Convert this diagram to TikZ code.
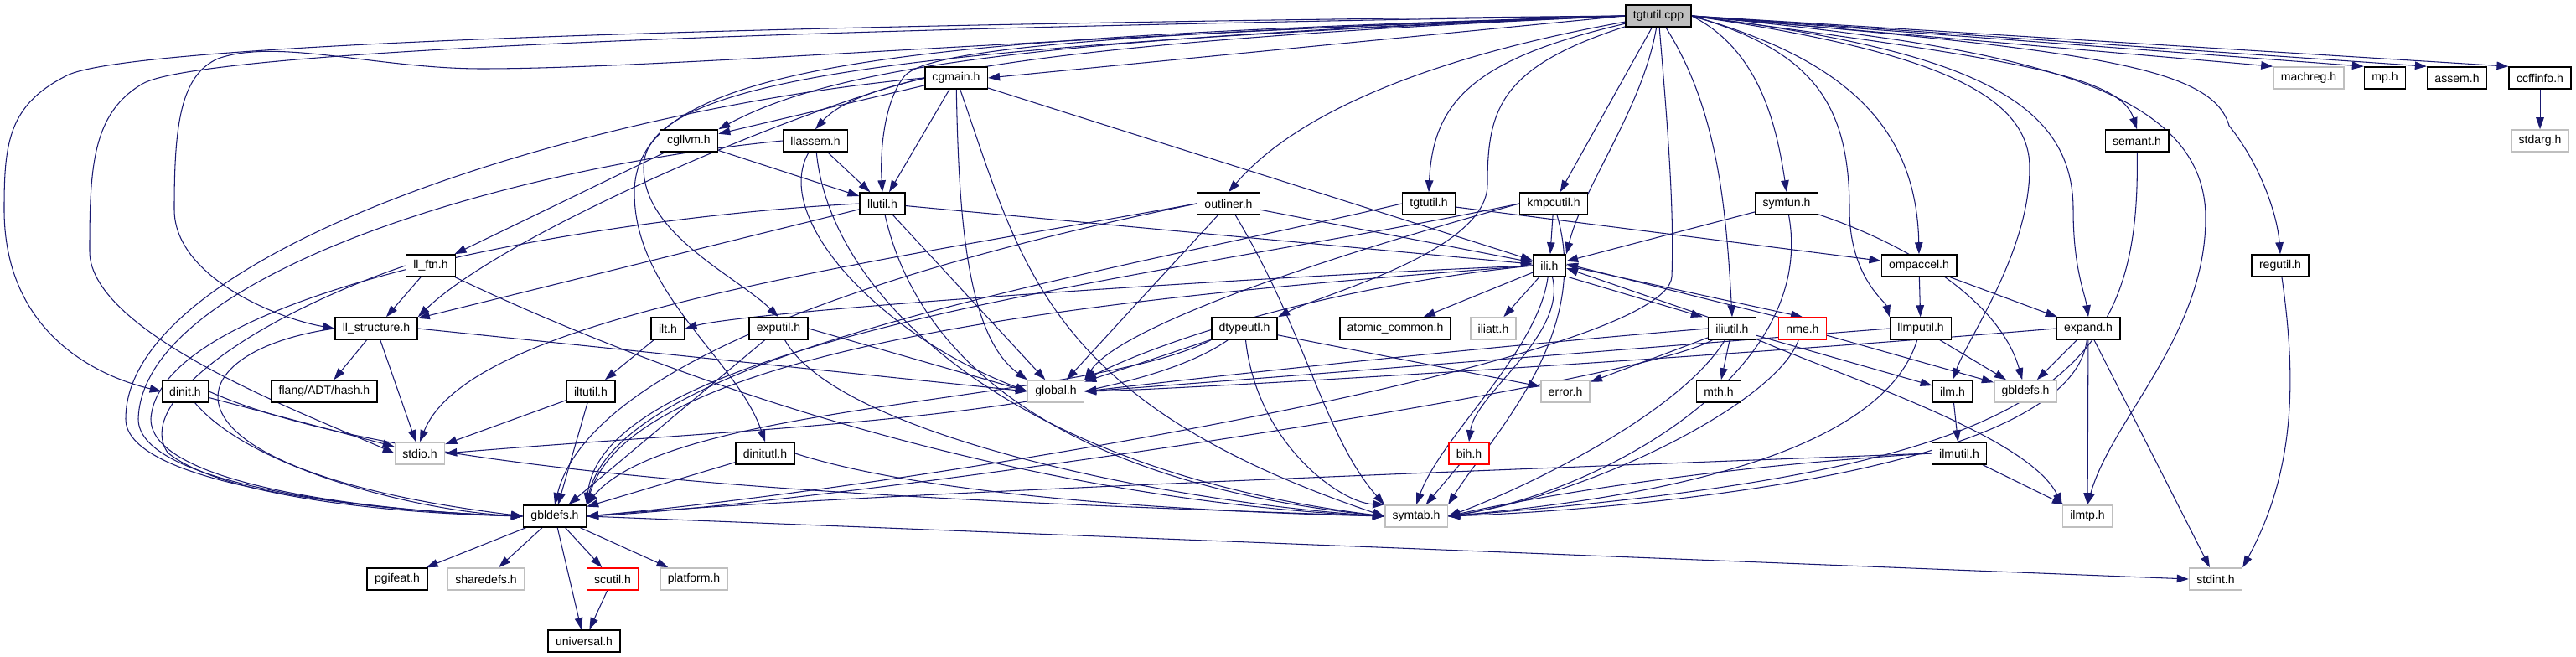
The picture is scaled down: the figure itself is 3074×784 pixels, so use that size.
\documentclass[tikz,border=0pt]{standalone}
\usepackage{fontspec}
\setmainfont{Liberation Sans}
\usetikzlibrary{arrows.meta,positioning,backgrounds}
\definecolor{EdgeBlue}{RGB}{25,25,112}
\definecolor{NoDocGray}{RGB}{191,191,191}
\definecolor{RootGray}{RGB}{191,191,191}
\definecolor{TruncRed}{RGB}{255,0,0}
\tikzset{
  hdr/.style={draw=black,fill=white,line width=0.9pt,minimum height=0.52cm,inner xsep=5pt,inner ysep=0pt,font=\fontsize{8}{9}\selectfont},
  nodoc/.style={hdr,draw=NoDocGray},
  trunc/.style={hdr,draw=TruncRed},
  root/.style={hdr,fill=RootGray},
  dep/.style={-{Triangle[length=2.8mm,width=1.9mm]},draw=EdgeBlue,line width=0.6pt}
}

\begin{document}
\begin{tikzpicture}[x=0.02cm,y=-0.02cm]
\useasboundingbox (0,0) rectangle (3074,784);

\node[root] (tgtutilcpp) at (1979,19) {tgtutil.cpp};

\node[hdr] (cgmain) at (1141,93) {cgmain.h};
\node[nodoc] (machreg) at (2755,93) {machreg.h};
\node[hdr] (mp) at (2846,93) {mp.h};
\node[hdr] (assem) at (2932,93) {assem.h};
\node[hdr] (ccffinfo) at (3031,93) {ccffinfo.h};

\node[hdr] (cgllvm) at (822,168) {cgllvm.h};
\node[hdr] (llassem) at (973,168) {llassem.h};
\node[hdr] (semant) at (2550,168) {semant.h};
\node[nodoc] (stdarg) at (3031,168) {stdarg.h};

\node[hdr] (llutil) at (1053,243) {llutil.h};
\node[hdr] (outliner) at (1466,243) {outliner.h};
\node[hdr] (tgtutilh) at (1705,243) {tgtutil.h};
\node[hdr] (kmpcutil) at (1854,243) {kmpcutil.h};
\node[hdr] (symfun) at (2132,243) {symfun.h};

\node[hdr] (llftn) at (514,317) {ll\_ftn.h};
\node[hdr] (ili) at (1849,317) {ili.h};
\node[hdr] (ompaccel) at (2290,317) {ompaccel.h};
\node[hdr] (regutil) at (2721,317) {regutil.h};

\node[hdr] (llstruct) at (449,392) {ll\_structure.h};
\node[hdr] (ilt) at (797,392) {ilt.h};
\node[hdr] (exputil) at (929,392) {exputil.h};
\node[hdr] (dtypeutl) at (1485,392) {dtypeutl.h};
\node[hdr] (atomic) at (1665,392) {atomic\_common.h};
\node[nodoc] (iliatt) at (1782,392) {iliatt.h};
\node[hdr] (iliutil) at (2067,392) {iliutil.h};
\node[trunc] (nme) at (2151,392) {nme.h};
\node[hdr] (llmputil) at (2292,392) {llmputil.h};
\node[hdr] (expand) at (2492,392) {expand.h};

\node[hdr] (dinit) at (221,467) {dinit.h};
\node[hdr] (hash) at (387,467) {flang/ADT/hash.h};
\node[hdr] (iltutil) at (705,467) {iltutil.h};
\node[nodoc] (global) at (1260,467) {global.h};
\node[nodoc] (error) at (1868,467) {error.h};
\node[hdr] (mth) at (2051,467) {mth.h};
\node[hdr] (ilm) at (2330,467) {ilm.h};
\node[nodoc] (gbldefsb) at (2417,467) {gbldefs.h};

\node[nodoc] (stdio) at (501,541) {stdio.h};
\node[hdr] (dinitutl) at (913,541) {dinitutl.h};
\node[trunc] (bih) at (1753,541) {bih.h};
\node[hdr] (ilmutil) at (2338,541) {ilmutil.h};

\node[hdr] (gbldefs) at (662,616) {gbldefs.h};
\node[nodoc] (symtab) at (1690,616) {symtab.h};
\node[nodoc] (ilmtp) at (2491,616) {ilmtp.h};

\node[hdr] (pgifeat) at (474,691) {pgifeat.h};
\node[nodoc] (sharedefs) at (580,691) {sharedefs.h};
\node[trunc] (scutil) at (731,691) {scutil.h};
\node[nodoc] (platform) at (828,691) {platform.h};
\node[nodoc] (stdint) at (2644,691) {stdint.h};

\node[hdr] (universal) at (697,765) {universal.h};

\begin{scope}[on background layer]
% edges out of tgtutil.cpp
\draw[dep] (tgtutilcpp.west) .. controls (800,30) and (150,55) .. (80,90) .. controls (10,125) and (5,170) .. (5,250) .. controls (5,400) and (120,450) .. (dinit.west);
\draw[dep] (tgtutilcpp.west) .. controls (800,36) and (230,65) .. (170,100) .. controls (110,135) and (107,200) .. (107,300) .. controls (107,400) and (380,500) .. (stdio.west);
\draw[dep] (tgtutilcpp.west) .. controls (1300,40) and (800,82) .. (575,82) .. controls (450,82) and (330,45) .. (260,70) .. controls (215,90) and (208,150) .. (208,250) .. controls (208,330) and (330,380) .. (llstruct.west);
\draw[dep] (tgtutilcpp.west) -- (cgmain.east);
\draw[dep] (tgtutilcpp.west) .. controls (1250,45) and (1000,78) .. (cgllvm.north east);
\draw[dep] (tgtutilcpp.west) .. controls (1250,50) and (1030,90) .. (llassem.north);
\draw[dep] (tgtutilcpp.west) .. controls (1300,40) and (1110,60) .. (1080,90) .. controls (1055,120) and (1050,180) .. (llutil.north);
\draw[dep] (tgtutilcpp.west) .. controls (1100,45) and (757,70) .. (757,230) .. controls (757,350) and (880,430) .. (dinitutl.north);
\draw[dep] (tgtutilcpp.west) .. controls (1100,55) and (768,90) .. (768,200) .. controls (768,280) and (880,330) .. (exputil.north);
\draw[dep] (tgtutilcpp) .. controls (1750,60) and (1560,120) .. (outliner.north);
\draw[dep] (tgtutilcpp) .. controls (1760,70) and (1710,120) .. (tgtutilh.north);
\draw[dep] (tgtutilcpp) .. controls (1790,80) and (1775,130) .. (1775,220) .. controls (1775,300) and (1580,350) .. (dtypeutl.north east);
\draw[dep] (tgtutilcpp) -- (kmpcutil);
\draw[dep] (tgtutilcpp) .. controls (1960,130) and (1890,220) .. (ili.north east);
\draw[dep] (tgtutilcpp) .. controls (1990,150) and (1998,250) .. (1995,330) .. controls (1990,430) and (1100,580) .. (gbldefs.east);
\draw[dep] (tgtutilcpp) .. controls (2050,130) and (2060,250) .. (iliutil.north);
\draw[dep] (tgtutilcpp.east) .. controls (2100,60) and (2120,150) .. (symfun.north);
\draw[dep] (tgtutilcpp.east) .. controls (2160,60) and (2207,120) .. (2207,250) .. controls (2207,330) and (2250,360) .. (llmputil.north west);
\draw[dep] (tgtutilcpp.east) .. controls (2200,70) and (2287,150) .. (ompaccel.north);
\draw[dep] (tgtutilcpp.east) .. controls (2300,60) and (2422,110) .. (2422,200) .. controls (2422,300) and (2350,400) .. (ilm.north);
\draw[dep] (tgtutilcpp.east) .. controls (2350,60) and (2474,120) .. (2474,250) .. controls (2474,320) and (2488,350) .. (expand.north);
\draw[dep] (tgtutilcpp.east) .. controls (2400,70) and (2530,90) .. (semant.north);
\draw[dep] (tgtutilcpp.east) .. controls (2400,55) and (2632,100) .. (2632,260) .. controls (2632,400) and (2520,500) .. (ilmtp.north);
\draw[dep] (tgtutilcpp.east) .. controls (2500,60) and (2640,80) .. (2660,150) .. controls (2700,200) and (2718,260) .. (regutil.north);
\draw[dep] (tgtutilcpp.east) -- (machreg.north west);
\draw[dep] (tgtutilcpp.east) -- (mp.north west);
\draw[dep] (tgtutilcpp.east) -- (assem.north west);
\draw[dep] (tgtutilcpp.east) -- (ccffinfo.north west);

% cgmain.h, cgllvm.h, llassem.h
\draw[dep] (cgmain) -- (cgllvm);
\draw[dep] (cgmain.west) .. controls (950,130) and (600,280) .. (llstruct.north east);
\draw[dep] (cgmain.west) .. controls (700,130) and (150,300) .. (150,500) .. controls (150,580) and (450,610) .. (gbldefs.west);
\draw[dep] (cgmain) -- (llutil);
\draw[dep] (cgmain) .. controls (1144,250) and (1152,400) .. (global.north west);
\draw[dep] (cgmain) .. controls (1220,320) and (1250,480) .. (symtab.west);
\draw[dep] (cgmain) -- (ili);
\draw[dep] (cgllvm) -- (llftn);
\draw[dep] (cgllvm) -- (llutil);
\draw[dep] (llassem) -- (llutil);
\draw[dep] (llassem.west) .. controls (600,200) and (170,330) .. (165,500) .. controls (165,580) and (450,610) .. (gbldefs.west);
\draw[dep] (llassem) .. controls (920,260) and (1050,400) .. (global.west);
\draw[dep] (llassem) .. controls (990,350) and (1200,560) .. (symtab.west);

% second rank
\draw[dep] (llutil) -- (ili);
\draw[dep] (llutil) -- (llstruct);
\draw[dep] (llutil.west) .. controls (700,260) and (190,350) .. (180,500) .. controls (180,580) and (450,610) .. (gbldefs.west);
\draw[dep] (llutil) -- (global);
\draw[dep] (llutil) .. controls (1100,450) and (1300,580) .. (symtab.west);
\draw[dep] (llftn) -- (llstruct);
\draw[dep] (llftn.west) .. controls (300,380) and (160,480) .. (200,540) .. controls (260,590) and (450,612) .. (gbldefs.west);
\draw[dep] (llftn) .. controls (900,500) and (1300,600) .. (symtab.west);
\draw[dep] (outliner) -- (ili);
\draw[dep] (outliner) -- (global);
\draw[dep] (outliner.west) .. controls (1000,330) and (700,450) .. (gbldefs.north);
\draw[dep] (outliner.west) .. controls (1000,320) and (560,380) .. (stdio.north);
\draw[dep] (outliner) .. controls (1560,400) and (1580,520) .. (symtab.north west);
\draw[dep] (tgtutilh) -- (ompaccel);
\draw[dep] (tgtutilh.west) .. controls (1300,330) and (740,420) .. (gbldefs.north east);
\draw[dep] (kmpcutil) -- (ili);
\draw[dep] (kmpcutil.west) .. controls (1500,330) and (1330,400) .. (global.north east);
\draw[dep] (kmpcutil.west) .. controls (1400,330) and (720,400) .. (gbldefs.north east);
\draw[dep] (kmpcutil) .. controls (1900,400) and (1780,520) .. (symtab.north east);
\draw[dep] (symfun) -- (ili);
\draw[dep] (symfun) .. controls (2170,450) and (1900,590) .. (symtab.east);
\draw[dep] (symfun) .. controls (2300,300) and (2390,370) .. (gbldefsb);

% ili.h and its neighbours
\draw[dep] (ili) -- (atomic);
\draw[dep] (ili) -- (iliatt);
\draw[dep] (ili.west) .. controls (1600,340) and (1400,400) .. (global.north east);
\draw[dep] (ili.west) .. controls (1500,330) and (900,370) .. (ilt.east);
\draw[dep] (ili.west) .. controls (1400,350) and (760,400) .. (gbldefs.north east);
\draw[dep] (ili) .. controls (1835,420) and (1720,520) .. (symtab.north);
\draw[dep] (ili) .. controls (1870,400) and (1760,470) .. (bih.north);
\draw[dep] ([shift={(3,0)}]ili.south east) -- ([shift={(-6,0)}]iliutil.north west);
\draw[dep] (iliutil.north west) -- ([shift={(0,3)}]ili.east);
\draw[dep] (ili.east) -- (nme.north);
\draw[dep] (nme.north west) -- ([shift={(0,-2)}]ili.east);
\draw[dep] (nme) -- (gbldefsb);
\draw[dep] (nme) .. controls (2120,480) and (1900,590) .. (symtab.east);
\draw[dep] (iliutil.west) .. controls (1700,420) and (1400,455) .. (global.east);
\draw[dep] (iliutil) -- (error);
\draw[dep] (iliutil) -- (mth);
\draw[dep] (iliutil) -- (ilm);
\draw[dep] (iliutil) .. controls (2200,450) and (2420,520) .. (ilmtp.north west);
\draw[dep] (iliutil) .. controls (2000,500) and (1800,590) .. (symtab.east);
\draw[dep] (iliutil) .. controls (1950,460) and (1000,600) .. (gbldefs.east);
\draw[dep] (bih) -- (symtab);

% openmp side
\draw[dep] (ompaccel) -- (llmputil);
\draw[dep] (ompaccel) -- (expand);
\draw[dep] (llmputil) -- (gbldefsb);
\draw[dep] (llmputil.west) .. controls (1900,420) and (1400,460) .. (global.east);
\draw[dep] (llmputil) .. controls (2240,560) and (1900,600) .. (symtab.east);
\draw[dep] (expand) -- (gbldefsb);
\draw[dep] (expand.west) .. controls (2000,430) and (1400,465) .. (global.east);
\draw[dep] (expand) .. controls (2470,570) and (1900,610) .. (symtab.east);
\draw[dep] (expand) -- (ilmtp);
\draw[dep] (expand) -- (stdint);
\draw[dep] (regutil) .. controls (2740,450) and (2740,560) .. (stdint.north east);
\draw[dep] (semant) .. controls (2555,450) and (2450,560) .. (symtab.east);
\draw[dep] (ilm) -- (ilmutil);
\draw[dep] (ilmutil) -- (ilmtp);
\draw[dep] (ilmutil.west) .. controls (1800,560) and (1000,590) .. (gbldefs.east);
\draw[dep] (ilmutil.west) .. controls (2000,560) and (1800,600) .. (symtab.east);
\draw[dep] (ccffinfo) -- (stdarg);

% left part
\draw[dep] (ilt) -- (iltutil);
\draw[dep] (iltutil) -- (stdio);
\draw[dep] (iltutil) -- (gbldefs);
\draw[dep] (exputil.east) -- (global.west);
\draw[dep] (exputil) -- (gbldefs);
\draw[dep] (exputil) .. controls (1000,520) and (1400,600) .. (symtab.west);
\draw[dep] (dinitutl) -- (gbldefs);
\draw[dep] (dinitutl.east) .. controls (1100,590) and (1400,610) .. (symtab.west);
\draw[dep] (dinit) -- (stdio);
\draw[dep] (dinit) .. controls (300,560) and (500,610) .. (gbldefs.west);
\draw[dep] (dinit.east) .. controls (500,580) and (1200,600) .. (symtab.west);
\draw[dep] (dtypeutl) -- (global);
\draw[dep] (dtypeutl) .. controls (1330,500) and (900,510) .. (stdio.east);
\draw[dep] (dtypeutl) .. controls (1500,530) and (1600,600) .. (symtab.north west);
\draw[dep] (dtypeutl) -- (error);
\draw[dep] (dtypeutl.south west) .. controls (1300,480) and (800,480) .. (gbldefs.north east);
\draw[dep] (llstruct) -- (hash);
\draw[dep] (llstruct) -- (stdio);
\draw[dep] (llstruct.east) -- (global.west);
\draw[dep] (llstruct.west) .. controls (200,420) and (170,560) .. (gbldefs.west);

% gbldefs.h
\draw[dep] (gbldefs) -- (pgifeat);
\draw[dep] (gbldefs) -- (sharedefs);
\draw[dep] (gbldefs) -- (universal);
\draw[dep] (gbldefs) -- (scutil);
\draw[dep] (gbldefs) -- (platform);
\draw[dep] (gbldefs.east) -- (stdint.west);
\draw[dep] (scutil) -- (universal);
\end{scope}
\end{tikzpicture}
\end{document}
